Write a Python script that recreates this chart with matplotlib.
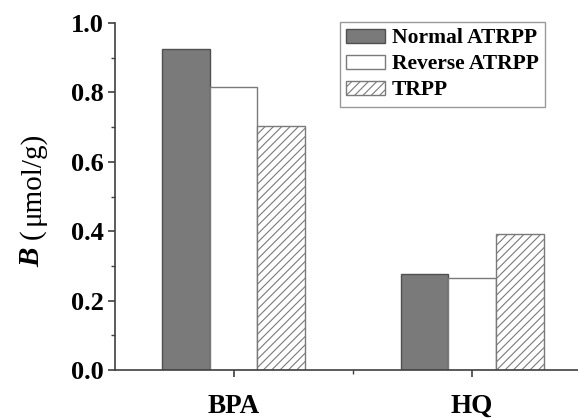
import numpy as np
import matplotlib.pyplot as plt

categories = ['BPA', 'HQ']
series = ['Normal ATRPP', 'Reverse ATRPP', 'TRPP']
normal = [0.925, 0.277]
reverse = [0.816, 0.264]
trpp = [0.703, 0.391]

plt.rcParams['font.family'] = ['Liberation Serif', 'DejaVu Serif']
plt.rcParams['hatch.color'] = '#888888'
plt.rcParams['hatch.linewidth'] = 0.8

fig = plt.figure(figsize=(5.78, 4.18), dpi=100)
ax = fig.add_axes([115 / 578, 48 / 418, 463 / 578, 347 / 418])

x = np.arange(1, len(categories) + 1)
w = 0.2
ax.bar(x - w, normal, w, color='#7a7a7a', edgecolor='#505050', linewidth=1.0,
       label=series[0])
ax.bar(x, reverse, w, color='white', edgecolor='#7a7a7a', linewidth=1.0,
       label=series[1])
ax.bar(x + w, trpp, w, color='white', edgecolor='#7a7a7a', linewidth=1.0,
       hatch='////', label=series[2])

ax.set_xlim(0.503, 2.444)
ax.set_ylim(0, 1.0)
ax.set_xticks(x)
ax.set_xticklabels(categories)
ax.set_xticks([1.5], minor=True)
ax.set_yticks([0.0, 0.2, 0.4, 0.6, 0.8, 1.0])
ax.set_yticks([0.1, 0.3, 0.5, 0.7, 0.9], minor=True)
ax.yaxis.set_major_formatter(plt.FormatStrFormatter('%.1f'))

for s in ['top', 'right']:
    ax.spines[s].set_visible(False)
for s in ['left', 'bottom']:
    ax.spines[s].set_color('#404040')
    ax.spines[s].set_linewidth(1.2)

ax.tick_params(axis='both', which='major', direction='out', length=5,
               width=1.2, color='#404040')
ax.tick_params(axis='both', which='minor', direction='out', length=3,
               width=1.0, color='#404040')
ax.tick_params(axis='y', labelsize=19, pad=3)
ax.tick_params(axis='x', labelsize=19.5, pad=12)
for lbl in ax.get_xticklabels() + ax.get_yticklabels():
    lbl.set_fontweight('bold')

# y label in pieces sharing one baseline: bold italic B, then the unit
lab = dict(rotation=90, rotation_mode='anchor', ha='left', va='baseline',
           fontsize=21)
fig.text(39 / 578, 1 - 267 / 418, 'B', fontweight='bold', fontstyle='italic',
         **lab)
fig.text(39 / 578, 1 - 239 / 418, '(', **lab)
fig.text(39 / 578, 1 - 225 / 418, 'μmol/g)', **lab)

leg = ax.legend(loc='upper left', bbox_to_anchor=(0.486, 1.003),
                borderaxespad=0,
                prop={'weight': 'bold', 'size': 15.5}, frameon=True,
                fancybox=False, edgecolor='#808080', handlelength=1.8,
                handleheight=0.65, handletextpad=0.3, borderpad=0.3,
                labelspacing=0.28)
leg.get_frame().set_linewidth(1.0)

fig.savefig('out.png', dpi=100)
